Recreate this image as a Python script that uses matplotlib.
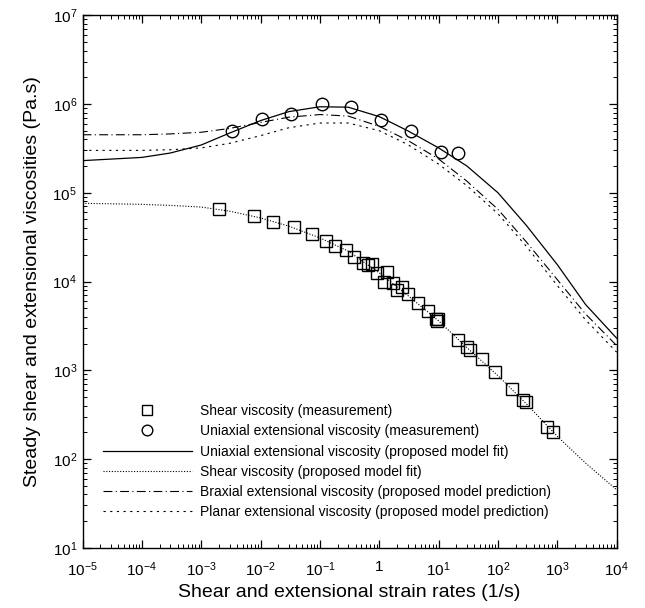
import matplotlib
matplotlib.use("Agg")
import matplotlib.pyplot as plt
from matplotlib.ticker import LogLocator, FixedLocator, FixedFormatter, NullFormatter

plt.rcParams['font.family'] = ['Liberation Sans', 'DejaVu Sans']
plt.rcParams['mathtext.default'] = 'regular'

# shear viscosity measurements (squares)
shear_rate = [0.0020, 0.0077, 0.016, 0.036, 0.073, 0.125, 0.18, 0.27, 0.38, 0.54,
              0.65, 0.75, 0.91, 1.34, 1.22, 1.73, 1.97, 2.45, 3.1, 4.5,
              6.7, 9.1, 9.9, 9.3, 21.6, 30.6, 34, 53, 90, 171,
              269, 296, 668, 843]
shear_visc = [6.5e4, 5.5e4, 4.7e4, 4.1e4, 3.4e4, 2.85e4, 2.5e4, 2.24e4, 1.9e4, 1.6e4,
              1.53e4, 1.56e4, 1.25e4, 1.28e4, 9.8e3, 9.7e3, 8.0e3, 8.7e3, 7.2e3, 5.75e3,
              4.7e3, 3.8e3, 3.8e3, 3.6e3, 2.2e3, 1.84e3, 1.69e3, 1.33e3, 947, 614,
              461, 435, 231, 203]

# uniaxial extensional viscosity measurements (circles)
uni_rate = [0.0033, 0.0105, 0.033, 0.108, 0.34, 1.06, 3.4, 10.9, 21.6]
uni_visc = [4.9e5, 6.7e5, 7.7e5, 9.9e5, 9.3e5, 6.6e5, 4.9e5, 2.9e5, 2.8e5]

# model curves
model_rate = [1e-5, 1e-4, 3e-4, 1e-3, 3e-3, 1e-2, 3e-2, 0.1, 0.3, 1,
              3, 10, 30, 100, 300, 1000, 3000, 1e4]
uni_fit = [2.3e5, 2.5e5, 2.8e5, 3.45e5, 4.7e5, 6.5e5, 8.2e5, 9.3e5, 9.2e5, 7.2e5,
           5.0e5, 3.2e5, 2.0e5, 1.0e5, 4.3e4, 1.55e4, 5.5e3, 2.3e3]
shear_fit = [7.6e4, 7.4e4, 7.2e4, 6.9e4, 6.2e4, 5.2e4, 4.2e4, 3.1e4, 2.2e4, 1.25e4,
             7.0e3, 3.6e3, 1.8e3, 870, 420, 180, 90, 45]
biax_pred = [4.5e5, 4.5e5, 4.6e5, 4.8e5, 5.3e5, 6.2e5, 7.1e5, 7.6e5, 7.3e5, 5.6e5,
             3.9e5, 2.4e5, 1.35e5, 6.5e4, 2.8e4, 1.05e4, 4.3e3, 1.9e3]
planar_pred = [3.0e5, 3.0e5, 3.05e5, 3.2e5, 3.6e5, 4.4e5, 5.4e5, 6.1e5, 6.1e5, 5.0e5,
               3.5e5, 2.1e5, 1.2e5, 5.8e4, 2.5e4, 9.0e3, 3.7e3, 1.6e3]

x_ticks = [1e-5, 1e-4, 1e-3, 1e-2, 1e-1, 1, 10, 100, 1000, 1e4]
x_labels = ['$10^{-5}$', '$10^{-4}$', '$10^{-3}$', '$10^{-2}$', '$10^{-1}$', '1',
            '$10^{1}$', '$10^{2}$', '$10^{3}$', '$10^{4}$']
y_ticks = [1e1, 1e2, 1e3, 1e4, 1e5, 1e6, 1e7]
y_labels = ['$10^{1}$', '$10^{2}$', '$10^{3}$', '$10^{4}$', '$10^{5}$', '$10^{6}$', '$10^{7}$']

fig = plt.figure(figsize=(6.45, 6.08), dpi=100)
ax = fig.add_axes([0.128, 0.099, 0.828, 0.876])

ax.plot(shear_rate, shear_visc, 's', ms=8, mfc='none', mec='black', mew=1.0,
        label='Shear viscosity (measurement)')
ax.plot(uni_rate, uni_visc, 'o', ms=9, mfc='none', mec='black', mew=1.0,
        label='Uniaxial extensional viscosity (measurement)')
ax.plot(model_rate, uni_fit, '-', color='black', lw=0.9,
        label='Uniaxial extensional viscosity (proposed model fit)')
ax.plot(model_rate, shear_fit, color='black', lw=0.8, ls=(0, (1, 1.5)),
        label='Shear viscosity (proposed model fit)')
ax.plot(model_rate, biax_pred, color='black', lw=0.8, ls=(0, (8, 3, 1, 3)),
        label='Braxial extensional viscosity (proposed model prediction)')
ax.plot(model_rate, planar_pred, color='black', lw=0.8, ls=(0, (2, 4)),
        label='Planar extensional viscosity (proposed model prediction)')

ax.set_xscale('log')
ax.set_yscale('log')
ax.set_xlim(1e-5, 1e4)
ax.set_ylim(1e1, 1e7)

ax.xaxis.set_major_locator(FixedLocator(x_ticks))
ax.xaxis.set_major_formatter(FixedFormatter(x_labels))
ax.yaxis.set_major_locator(FixedLocator(y_ticks))
ax.yaxis.set_major_formatter(FixedFormatter(y_labels))
ax.xaxis.set_minor_locator(LogLocator(base=10, subs=range(2, 10), numticks=20))
ax.yaxis.set_minor_locator(LogLocator(base=10, subs=range(2, 10), numticks=20))
ax.xaxis.set_minor_formatter(NullFormatter())
ax.yaxis.set_minor_formatter(NullFormatter())

ax.tick_params(which='both', direction='in', top=True, right=True, labelsize=11)
ax.tick_params(which='major', length=6, width=0.9)
ax.tick_params(which='minor', length=3, width=0.7)
ax.tick_params(axis='x', which='major', pad=9)
ax.tick_params(axis='y', which='major', pad=4)
for s in ax.spines.values():
    s.set_linewidth(1.0)

ax.set_xlabel('Shear and extensional strain rates (1/s)', fontsize=14, labelpad=4)
ax.set_ylabel('Steady shear and extensional viscosities (Pa.s)', fontsize=14, labelpad=8)

ax.legend(loc='upper left', bbox_to_anchor=(0.038, 0.27), frameon=False,
          fontsize=10, handlelength=6.4, handletextpad=0.6, labelspacing=0.45,
          borderpad=0, borderaxespad=0, numpoints=1, markerscale=0.85)

fig.savefig('out.png', dpi=100)
